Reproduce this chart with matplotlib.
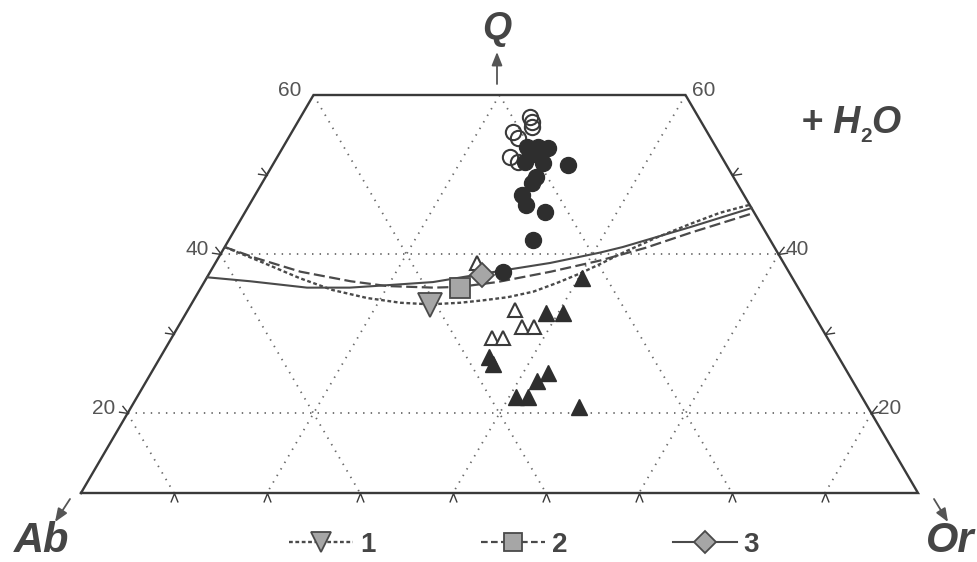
import matplotlib
matplotlib.use("Agg")
import matplotlib.pyplot as plt
from matplotlib.lines import Line2D
from matplotlib.markers import MarkerStyle
from matplotlib.path import Path
import numpy as np

# ---------------- data: ternary compositions Q / Ab / Or (%) ----------------
# solid circles
circ_fill_Q = [53.5, 53.5, 53.3, 52.5, 52.5, 51.6, 51.5, 51.2, 49.7, 48.9, 47.4, 46.2, 45.3, 41.8, 37.8]
circ_fill_Ab = [20.3, 19.1, 18.1, 20.5, 19.4, 21.5, 19.6, 17.0, 21.2, 22.1, 23.9, 24.1, 22.5, 25.5, 30.7]
circ_fill_Or = [26.2, 27.4, 28.6, 27.0, 28.1, 26.9, 28.9, 31.8, 29.1, 29.0, 28.7, 29.7, 32.2, 32.7, 31.5]

# open circles
circ_open_Q = [57.2, 56.6, 56.0, 55.4, 54.6, 52.2, 51.6]
circ_open_Ab = [18.1, 18.2, 18.5, 20.8, 20.7, 22.8, 22.2]
circ_open_Or = [24.7, 25.2, 25.5, 23.8, 24.7, 25.0, 26.2]

# open triangles
tri_open_Q = [38.9, 33.0, 30.9, 30.9, 29.5, 29.5]
tri_open_Ab = [33.0, 31.8, 32.1, 30.8, 36.1, 34.9]
tri_open_Or = [28.1, 35.2, 37.0, 38.3, 34.4, 35.6]

# solid triangles
tri_fill_Q = [37.0, 32.6, 32.6, 27.1, 26.2, 25.1, 24.1, 22.1, 22.1, 20.8]
tri_fill_Ab = [22.6, 28.7, 26.9, 37.6, 37.6, 32.2, 33.9, 37.2, 35.9, 31.0]
tri_fill_Or = [40.4, 38.7, 40.5, 35.3, 36.2, 42.7, 42.0, 40.7, 42.0, 48.2]

# cotectic curves (Q, Or; Ab = 100 - Q - Or)
curve1_Q = [40.9, 39.1, 37.0, 35.5, 34.5, 33.9, 33.7, 33.9, 34.2, 34.6, 35.3, 36.4,
            37.6, 38.9, 40.2, 42.0, 43.8, 45.2, 46.2]
curve1_Or = [0.0, 4.7, 10.0, 14.3, 18.5, 22.4, 25.7, 28.8, 31.1, 33.6, 36.0, 38.0,
             39.9, 41.6, 43.2, 45.7, 48.6, 51.1, 53.8]
curve2_Q = [40.9, 39.5, 37.8, 36.6, 36.0, 35.8, 35.9, 36.5, 37.8, 39.2, 40.8, 42.7, 45.2]
curve2_Or = [0.0, 4.1, 9.7, 15.7, 19.9, 25.0, 27.8, 31.5, 36.6, 41.2, 45.3, 49.2, 54.8]
curve3_Q = [37.1, 36.6, 35.8, 35.8, 36.1, 36.5, 37.9, 38.9, 40.2, 40.9, 43.4, 45.8]
curve3_Or = [0.0, 4.9, 11.4, 16.0, 19.8, 24.6, 31.1, 36.0, 40.7, 42.8, 48.8, 54.2]

# minimum points on the curves (Q, Ab, Or)
min_Q = [33.6, 35.8, 37.4]
min_Ab = [40.7, 36.4, 33.2]
min_Or = [25.7, 27.8, 29.4]
series_labels = ["1", "2", "3"]

# diagram frame and grid
Q_MIN, Q_MAX = 10, 60
grid_steps = [20, 40, 60, 80]
q_labels = [20, 40, 60]
side_ticks = [20, 30, 40, 50]
base_ticks = [10, 20, 30, 40, 50, 60, 70, 80]


def proj(Q, Or):
    """Ternary (Q, Or) -> cartesian (x, y) with the Q apex up."""
    Q = np.asarray(Q, float)
    Or = np.asarray(Or, float)
    return Or + Q / 2.0, Q


W, H = 978, 562
fig = plt.figure(figsize=(W / 100, H / 100), dpi=100)
ax = fig.add_axes([0, 0, 1, 1])
ax.set_xlim(-3.710, 101.452)
ax.set_ylim(1.332, 71.935)
ax.axis("off")

FRAME = "#3a3a3a"
GRID = "#6a6a6a"
CURVE = "#4a4a4a"
TEXT = "#454545"

# dotted grid
grid_kw = dict(color=GRID, lw=1.3, dashes=(0.8, 3.4), zorder=1)
for g in grid_steps:
    # constant Q
    if Q_MIN < g < Q_MAX:
        x, y = proj([g, g], [0, 100 - g])
        ax.plot(x, y, **grid_kw)
    q_top = min(Q_MAX, 100 - g)
    # constant Ab
    x, y = proj([q_top, Q_MIN], [100 - g - q_top, 100 - g - Q_MIN])
    ax.plot(x, y, **grid_kw)
    # constant Or
    x, y = proj([q_top, Q_MIN], [g, g])
    ax.plot(x, y, **grid_kw)

# frame
fx, fy = proj([Q_MIN, Q_MIN, Q_MAX, Q_MAX, Q_MIN], [0, 100 - Q_MIN, 100 - Q_MAX, 0, 0])
ax.plot(fx, fy, color=FRAME, lw=1.7, solid_joinstyle="miter", zorder=3)

# chevron ticks
chev = Path([(-0.4, -1.0), (0.0, 0.0), (0.4, -1.0)],
            [Path.MOVETO, Path.LINETO, Path.LINETO])
tick_kw = dict(ls="none", ms=13, mfc="none", mec=FRAME, mew=1.0, zorder=3)
bx, by = proj([Q_MIN] * len(base_ticks), base_ticks)
ax.plot(bx, by, marker=MarkerStyle(chev).rotated(deg=0), **tick_kw)
lx, ly = proj(side_ticks, [0] * len(side_ticks))
ax.plot(lx, ly, marker=MarkerStyle(chev).rotated(deg=-120), **tick_kw)
rx, ry = proj(side_ticks, [100 - q for q in side_ticks])
ax.plot(rx, ry, marker=MarkerStyle(chev).rotated(deg=120), **tick_kw)

# Q value labels on both sides
for q in q_labels:
    x, y = proj(q, 0)
    ax.annotate(str(q), (x, y), xytext=(-12, 5), textcoords="offset pixels",
                ha="right", va="center", fontsize=15, color="#555555",
                family="Liberation Sans")
    x, y = proj(q, 100 - q)
    ax.annotate(str(q), (x, y), xytext=(7, 5), textcoords="offset pixels",
                ha="left", va="center", fontsize=15, color="#555555",
                family="Liberation Sans")

# cotectic curves
c1 = proj(curve1_Q, curve1_Or)
c2 = proj(curve2_Q, curve2_Or)
c3 = proj(curve3_Q, curve3_Or)
ax.plot(*c1, color=CURVE, lw=1.7, dashes=(1.6, 1.1), zorder=4)
ax.plot(*c2, color=CURVE, lw=1.6, dashes=(5.0, 2.0), zorder=4)
ax.plot(*c3, color=CURVE, lw=1.5, zorder=4)

# sample points
x, y = proj(circ_open_Q, circ_open_Or)
ax.plot(x, y, ls="none", marker="o", ms=11, mfc="none", mec="#3a3a3a", mew=1.5, zorder=5)
x, y = proj(circ_fill_Q, circ_fill_Or)
ax.plot(x, y, ls="none", marker="o", ms=11.5, mfc="#2e2e2e", mec="#2e2e2e", zorder=6)
x, y = proj(tri_fill_Q, tri_fill_Or)
ax.plot(x, y, ls="none", marker="^", ms=11, mfc="#2e2e2e", mec="#2e2e2e", zorder=5)
x, y = proj(tri_open_Q, tri_open_Or)
ax.plot(x, y, ls="none", marker="^", ms=10, mfc="white", mec="#3a3a3a", mew=1.5, zorder=5)

# minimum points
mk = ["v", "s", "D"]
msz = [17, 14, 12.5]
MFILL = "#a6a6a6"
for i in range(3):
    x, y = proj(min_Q[i], min_Or[i])
    ax.plot([x], [y], ls="none", marker=mk[i], ms=msz[i], mfc=MFILL, mec="#4a4a4a",
            mew=1.3, zorder=7)

# legend
handles = [
    Line2D([], [], color=CURVE, lw=1.7, dashes=(1.6, 1.1), marker="v", ms=15,
           mfc=MFILL, mec="#4a4a4a", mew=1.3),
    Line2D([], [], color=CURVE, lw=1.6, dashes=(3.0, 1.5), marker="s", ms=13,
           mfc=MFILL, mec="#4a4a4a", mew=1.3),
    Line2D([], [], color=CURVE, lw=1.5, marker="D", ms=11.5,
           mfc=MFILL, mec="#4a4a4a", mew=1.3),
]
leg = fig.legend(handles, series_labels, loc="center", ncol=3,
                 bbox_to_anchor=(524 / W, 17 / H), frameon=False,
                 handlelength=2.3, handletextpad=0.25, columnspacing=3.8,
                 borderpad=0, numpoints=1,
                 prop=dict(family="Liberation Sans", weight="bold", size=20))
for t in leg.get_texts():
    t.set_color(TEXT)

# apex labels
big = dict(family="Liberation Sans", weight="bold", style="italic", color=TEXT)
fig.text(497 / W, 1 - 29 / H, "Q", ha="center", va="center", fontsize=27, **big)
fig.text(42 / W, 1 - 541 / H, "Ab", ha="center", va="center", fontsize=30, **big)
fig.text(950 / W, 1 - 541 / H, "Or", ha="center", va="center", fontsize=30, **big)

# + H2O (subscript drawn as its own text next to the H)
t_h = fig.text(801 / W, 1 - 133 / H, "+ H", ha="left", va="baseline", fontsize=27, **big)
ax.annotate("2", xy=(1, 0), xycoords=t_h, xytext=(0, -5), textcoords="offset pixels",
            ha="left", va="bottom", fontsize=15, family="Liberation Sans",
            weight="bold", color=TEXT)
ax.annotate("O", xy=(1, 0), xycoords=t_h, xytext=(11, 0), textcoords="offset pixels",
            ha="left", va="bottom", fontsize=27, **big)

# direction arrows
arr = dict(arrowstyle="-|>,head_length=0.5,head_width=0.2", color="#555555",
           lw=1.3, shrinkA=0, shrinkB=0, mutation_scale=16)
ax.annotate("", xy=(497, H - 52), xytext=(497, H - 84), xycoords="figure pixels",
            textcoords="figure pixels", arrowprops=arr)
ax.annotate("", xy=(55, H - 522), xytext=(70, H - 499), xycoords="figure pixels",
            textcoords="figure pixels", arrowprops=arr)
ax.annotate("", xy=(948, H - 522), xytext=(934, H - 499), xycoords="figure pixels",
            textcoords="figure pixels", arrowprops=arr)

fig.savefig("out.png", dpi=100, facecolor="white")
